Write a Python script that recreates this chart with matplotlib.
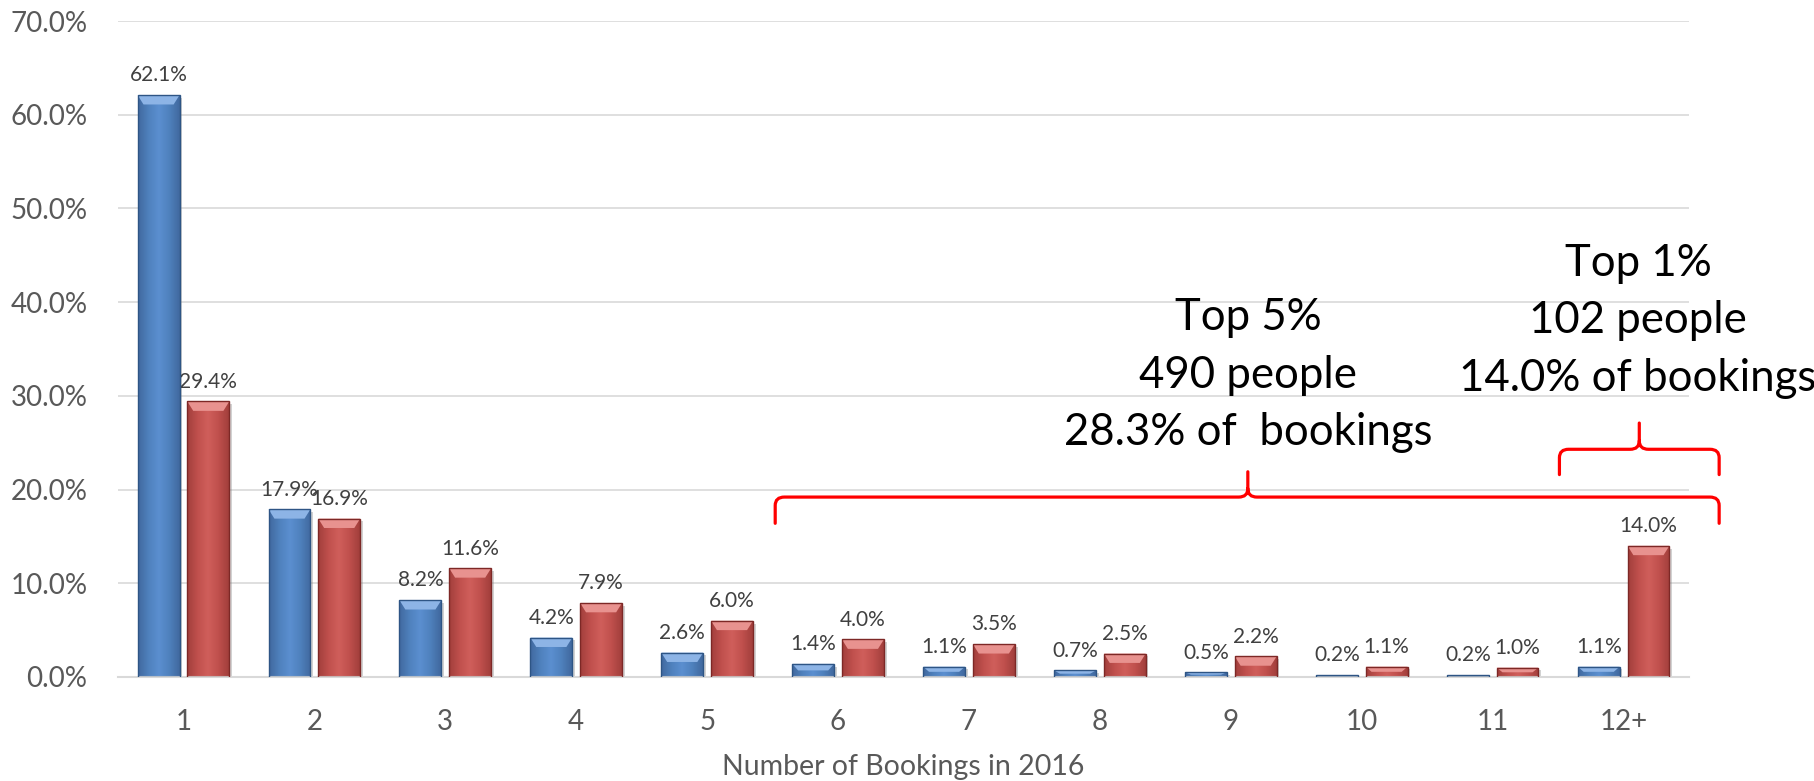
import numpy as np
import matplotlib
matplotlib.use('Agg')
import matplotlib.pyplot as plt
import matplotlib.patheffects as pe
from matplotlib.path import Path
from matplotlib.patches import PathPatch, Polygon, Rectangle
from matplotlib.colors import LinearSegmentedColormap

# data
categories = ['1', '2', '3', '4', '5', '6', '7', '8', '9', '10', '11', '12+']
people_pct = [62.1, 17.9, 8.2, 4.2, 2.6, 1.4, 1.1, 0.7, 0.5, 0.2, 0.2, 1.1]
bookings_pct = [29.4, 16.9, 11.6, 7.9, 6.0, 4.0, 3.5, 2.5, 2.2, 1.1, 1.0, 14.0]
yticks = [0, 10, 20, 30, 40, 50, 60, 70]

top5_text = 'Top 5%\n490 people\n28.3% of  bookings'
top1_text = 'Top 1%\n102 people\n14.0% of bookings'

plt.rcParams['font.family'] = ['Lato', 'DejaVu Sans']

fig = plt.figure(figsize=(18.15, 7.81), dpi=100)
ax = fig.add_axes([0.065, 0.1332, 0.8656, 0.8398])

x = np.arange(len(categories))
w = 0.32
off = 0.19

shadow = [pe.SimplePatchShadow(offset=(2, -2), shadow_rgbFace='#7f7f7f', alpha=0.35), pe.Normal()]
b1 = ax.bar(x - off, people_pct, w, color='#4F81BD', zorder=2, path_effects=shadow)
b2 = ax.bar(x + off, bookings_pct, w, color='#C0504D', zorder=2, path_effects=shadow)


def bevel(bars, dark, base, light, top, edge):
    cmap = LinearSegmentedColormap.from_list('g', [dark, base, light, base, dark])
    grad = np.linspace(0, 1, 64).reshape(1, -1)
    for b in bars:
        x0, bw, h = b.get_x(), b.get_width(), b.get_height()
        im = ax.imshow(grad, cmap=cmap, aspect='auto', extent=(x0, x0 + bw, 0, h),
                       zorder=2.5, interpolation='bicubic')
        im.set_clip_path(b)
        bx = 0.045
        by = min(1.0, h / 2)
        ax.add_patch(Polygon([(x0, h), (x0 + bw, h), (x0 + bw - bx, h - by), (x0 + bx, h - by)],
                             closed=True, fc=top, ec='none', zorder=3))
        ax.add_patch(Rectangle((x0, 0), bw, h, fill=False, ec=edge, lw=1, zorder=4))


bevel(b1, '#41699F', '#4F81BD', '#5B8FD0', '#8DB4E6', '#2E5585')
bevel(b2, '#A23F3C', '#C0504D', '#D05F5B', '#E8928F', '#7D2826')

for xi, v in zip(x - off, people_pct):
    ax.annotate(f'{v:.1f}%', (xi, v), xytext=(0, 7), textcoords='offset points',
                ha='center', va='bottom', fontsize=15, color='#404040')
for xi, v in zip(x + off, bookings_pct):
    ax.annotate(f'{v:.1f}%', (xi, v), xytext=(0, 7), textcoords='offset points',
                ha='center', va='bottom', fontsize=15, color='#404040')


def brace(x0, x1, xm, y_end, y_line, y_tip, rx=0.07, ry=0.9):
    verts = [(x0, y_end), (x0, y_line - ry), (x0, y_line), (x0 + rx, y_line),
             (xm - rx, y_line), (xm, y_line), (xm, y_line + ry), (xm, y_tip),
             (xm, y_line + ry), (xm, y_line), (xm + rx, y_line),
             (x1 - rx, y_line), (x1, y_line), (x1, y_line - ry), (x1, y_end)]
    codes = [Path.MOVETO, Path.LINETO, Path.CURVE3, Path.CURVE3,
             Path.LINETO, Path.CURVE3, Path.CURVE3, Path.LINETO,
             Path.MOVETO, Path.CURVE3, Path.CURVE3,
             Path.LINETO, Path.CURVE3, Path.CURVE3, Path.LINETO]
    ax.add_patch(PathPatch(Path(verts, codes), fc='none', ec='#FF0000', lw=2.3,
                           clip_on=False, zorder=5, capstyle='round'))


brace(4.52, 11.73, 8.13, 16.4, 19.2, 21.9)
brace(10.51, 11.73, 11.12, 21.6, 24.3, 27.1)

ax.text(8.13, 32.2, top5_text, ha='center', va='center', fontsize=31.5,
        linespacing=1.5, color='black', clip_on=False)
ax.text(11.11, 38.0, top1_text, ha='center', va='center', fontsize=31.5,
        linespacing=1.5, color='black', clip_on=False)

ax.set_xlim(-0.5, 11.5)
ax.set_ylim(0, 70)
ax.set_yticks(yticks)
ax.set_yticklabels([f'{t:.1f}%' for t in yticks])
ax.set_xticks(x)
ax.set_xticklabels(categories)
ax.tick_params(axis='y', length=0, pad=22, labelsize=20, labelcolor='#595959')
ax.tick_params(axis='x', length=0, pad=23, labelsize=20, labelcolor='#595959')
ax.grid(axis='y', color='#D9D9D9', lw=1.2, zorder=0)
ax.set_axisbelow(True)
for s in ['top', 'right', 'left']:
    ax.spines[s].set_visible(False)
ax.spines['bottom'].set_color('#D9D9D9')
ax.spines['bottom'].set_linewidth(1.5)
ax.set_xlabel('Number of Bookings in 2016', fontsize=20.5, color='#595959', labelpad=14)

fig.savefig('out.png', dpi=100)
